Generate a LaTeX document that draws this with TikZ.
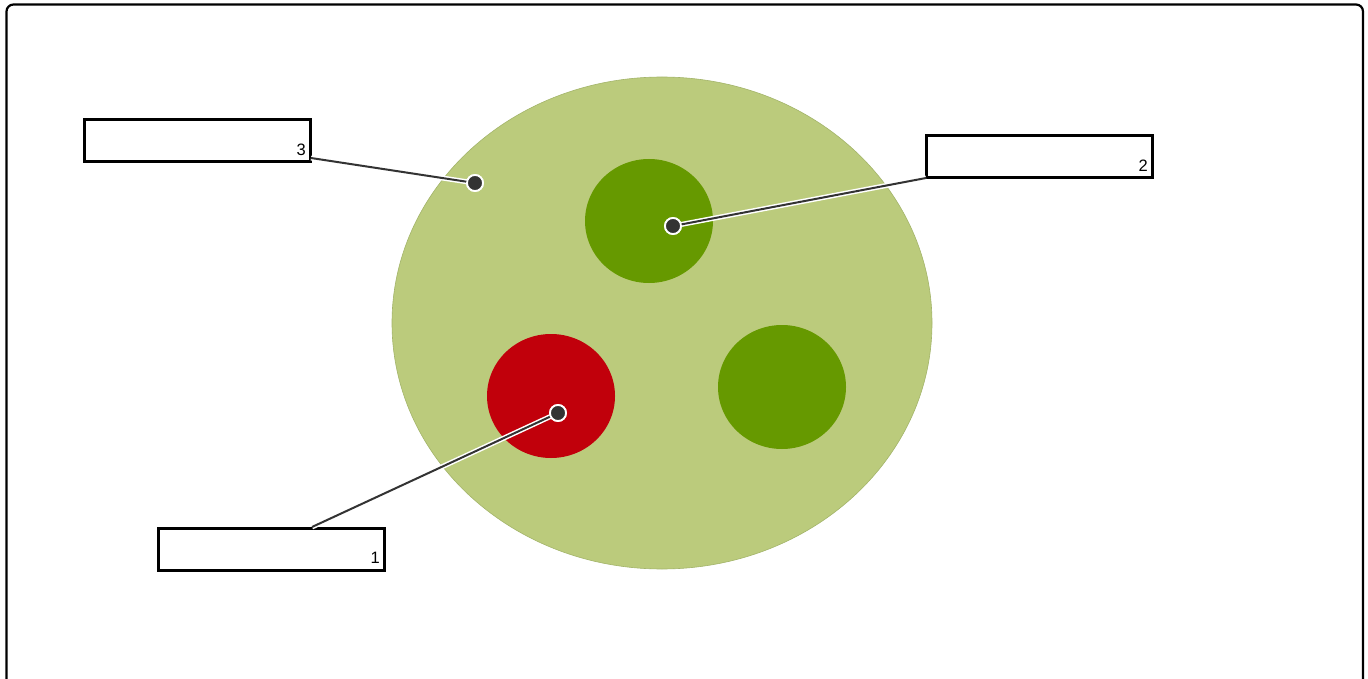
\documentclass[tikz,border=0pt]{standalone}
\usepackage{fontspec}
\setmainfont{Liberation Sans}
\definecolor{outergreen}{HTML}{BBCB7C}
\definecolor{outeredge}{HTML}{A3B46A}
\definecolor{innergreen}{HTML}{669900}
\definecolor{innerred}{HTML}{C1000B}
\definecolor{dotgray}{HTML}{333333}
\begin{document}
\begin{tikzpicture}[x=1pt,y=-1pt,
  labelbox/.style={draw=black,line width=3pt,fill=white,minimum width=226pt,minimum height=42pt,inner sep=0pt},
  numtext/.style={font=\fontsize{16.5}{16.5}\selectfont,anchor=base east,inner sep=0pt},
  pin/.style={circle,fill=dotgray,draw=white,line width=1.8pt,minimum size=16pt,inner sep=0pt},
  halo/.style={white,line width=5pt},
  leader/.style={dotgray,line width=2pt}]
\useasboundingbox (0,0) rectangle (1368,679);
\draw[line width=2.2pt,rounded corners=7pt] (6.5,690) -- (6.5,4.5) -- (1363,4.5) -- (1363,690);
% circles
\fill[outergreen,draw=outeredge,line width=0.6pt] (662,323) ellipse [x radius=270, y radius=246];
\fill[innergreen] (649,221) ellipse [x radius=64, y radius=62];
\fill[innergreen] (782,387) ellipse [x radius=64, y radius=62];
\fill[innerred] (551,396) ellipse [x radius=64, y radius=62];
% boxes
\node[labelbox] (b3) at (197.5,141) {};
\node[numtext] at (306,155.5) {3};
\node[labelbox] (b2) at (1039,157) {};
\node[numtext] at (1148,171.5) {2};
\node[labelbox] (b1) at (271,549) {};
\node[numtext] at (380,563.5) {1};
% pins
\node[pin] (p3) at (475,183) {};
\node[pin] (p2) at (673,226) {};
\node[pin] (p1) at (558,413) {};
\coordinate (c3) at (311,158);
\coordinate (c2) at (926,178);
\coordinate (c1) at (312,527);
\draw[halo] (c3) -- (p3.center);
\draw[halo] (c2) -- (p2.center);
\draw[halo] (c1) -- (p1.center);
\draw[leader] (c3) -- (p3.center);
\draw[leader] (c2) -- (p2.center);
\draw[leader] (c1) -- (p1.center);
\node[pin] at (p3) {};
\node[pin] at (p2) {};
\node[pin] at (p1) {};
\end{tikzpicture}
\end{document}
